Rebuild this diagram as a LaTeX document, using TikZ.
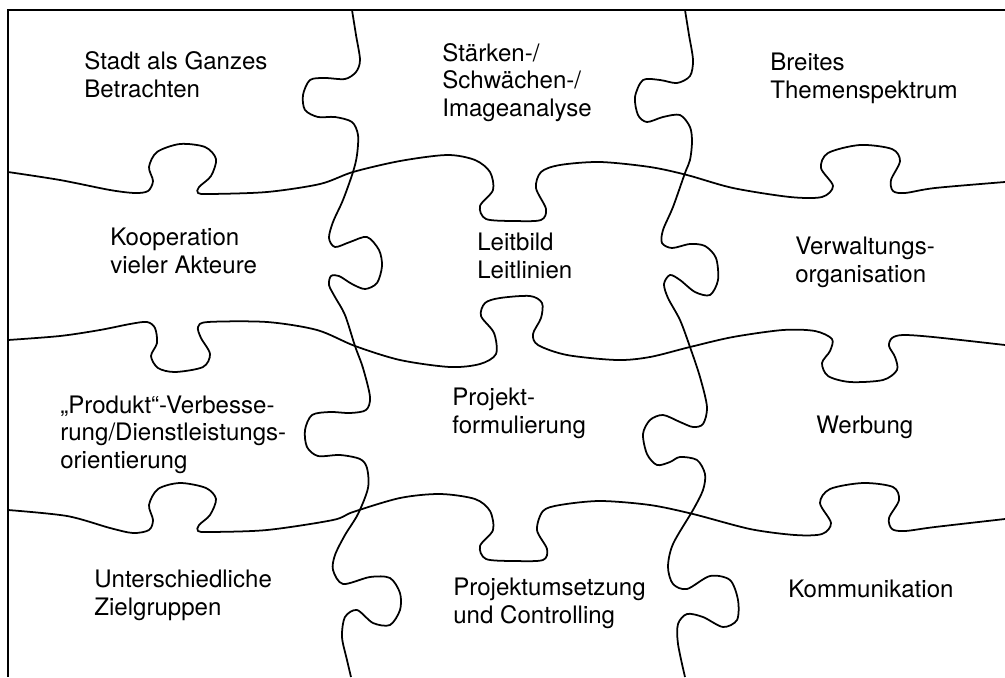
\documentclass[tikz,border=0pt]{standalone}
\usepackage{fontspec}
\setmainfont{TeX Gyre Heros}
\usepackage{tikz}

\begin{document}
\begin{tikzpicture}[x=0.02cm,y=-0.02cm,
  cut/.style={black, line width=1pt, line join=round},
  frame/.style={black, line width=0.8pt},
  txt/.style={anchor=base west, align=left, inner sep=0pt, font=\fontsize{13.7}{15.4}\selectfont}]
  \useasboundingbox (0,0) rectangle (1005,677);

  % Frame (top and left only)
  \draw[frame] (1005,10) -- (8,10) -- (8,677);

  % Row boundary 1
  \draw[cut] plot[smooth] coordinates {(8,172) (60,180) (110,190) (135,193) (148,191) (153,181) (149,167) (157,152) (180,144) (205,147) (216,159) (211,176) (199,187) (198,193) (210,194) (267,192) (320,184) (353,172) (400,161) (447,155) (475,160) (490,172) (493,190) (480,206) (486,219) (515,221) (541,220) (546,209) (536,188) (541,172) (560,165) (600,162) (650,167) (687,175) (733,188) (790,197) (822,197) (833,186) (821,168) (828,153) (860,145) (892,149) (900,161) (891,180) (893,191) (905,193) (935,188) (1005,182)};

  % Row boundary 2
  \draw[cut] plot[smooth] coordinates {(8,340) (60,336) (100,330) (130,324) (147,322) (155,328) (157,343) (151,356) (158,368) (175,372) (203,367) (210,354) (201,338) (198,327) (208,322) (267,322) (317,330) (355,346) (400,360) (450,367) (480,364) (496,354) (494,333) (481,316) (485,303) (500,298) (530,296) (542,303) (541,318) (533,334) (538,345) (567,355) (617,360) (650,357) (690,347) (733,337) (783,330) (815,331) (832,339) (830,351) (822,363) (828,376) (850,382) (883,380) (897,370) (895,357) (889,346) (892,338) (903,335) (933,337) (1005,345)};

  % Row boundary 3
  \draw[cut] plot[smooth] coordinates {(8,510) (67,516) (110,528) (133,533) (149,530) (153,520) (149,505) (158,489) (180,483) (206,488) (216,499) (210,515) (199,525) (198,531) (210,532) (267,530) (333,520) (353,512) (400,498) (440,494) (475,499) (490,511) (493,530) (480,546) (486,559) (515,561) (543,560) (547,549) (537,530) (543,511) (560,505) (600,501) (650,505) (693,514) (750,529) (795,535) (822,534) (831,523) (820,503) (830,489) (863,483) (893,487) (899,500) (889,518) (892,529) (905,531) (935,527) (1005,519)};

  % Column boundary 1
  \draw[cut] plot[smooth] coordinates {(352,10) (356,35) (360,60) (356,72) (345,79) (325,78) (310,80) (303,95) (305,110) (318,117) (335,117) (352,122) (358,135) (357,155) (353,172) (343,200) (333,222) (329,238) (335,247) (350,242) (367,237) (379,250) (382,266) (377,283) (365,289) (352,284) (339,276) (331,276) (329,285) (335,297) (345,315) (355,346) (363,368) (370,397) (366,410) (350,413) (330,412) (312,415) (305,430) (307,447) (318,456) (340,455) (360,459) (367,468) (368,488) (358,514) (345,535) (335,555) (333,570) (343,584) (370,577) (390,578) (400,593) (400,610) (390,625) (373,623) (357,610) (345,617) (342,637) (347,660) (351,677)};

  % Column boundary 2
  \draw[cut] plot[smooth] coordinates {(685,10) (689,35) (693,60) (690,76) (677,83) (660,80) (643,80) (635,97) (638,115) (647,122) (663,117) (680,115) (690,127) (692,142) (690,160) (685,173) (673,207) (663,230) (662,243) (672,248) (690,244) (705,246) (716,258) (718,280) (710,295) (695,292) (680,280) (670,275) (664,284) (668,298) (680,320) (690,347) (700,377) (707,407) (703,424) (693,427) (680,422) (663,415) (650,420) (643,434) (647,454) (657,465) (670,462) (680,457) (697,460) (705,474) (703,490) (693,510) (673,544) (668,567) (673,584) (687,589) (710,576) (730,580) (738,600) (737,620) (723,627) (703,617) (687,614) (678,624) (678,644) (685,677)};

  % Row 1
  \node[txt] (ganzes) at (84,97) {Stadt als Ganzes\\Betrachten};
  \node[txt] (image) at (442,116) {Stärken-/\\Schwächen-/\\Imageanalyse};
  \node[txt] (themen) at (770,98) {Breites\\Themenspektrum};

  % Row 2
  \node[txt] (koop) at (110,273) {Kooperation\\vieler Akteure};
  \node[txt] (leitbild) at (477,278) {Leitbild\\Leitlinien};
  \node[txt] (verwaltung) at (795,282) {Verwaltungs-\\organisation};

  % Row 3
  \node[txt] (produkt) at (60,468) {„Produkt“-Verbesse-\\rung/Dienstleistungs-\\orientierung};
  \node[txt] (projekt) at (452,433) {Projekt-\\formulierung};
  \node[txt] (werbung) at (816,433) {Werbung};

  % Row 4
  \node[txt] (zielgr) at (94,615) {Unterschiedliche\\Zielgruppen};
  \node[txt] (umsetz) at (453,623) {Projektumsetzung\\und Controlling};
  \node[txt] (komm) at (788,597) {Kommunikation};
\end{tikzpicture}
\end{document}
